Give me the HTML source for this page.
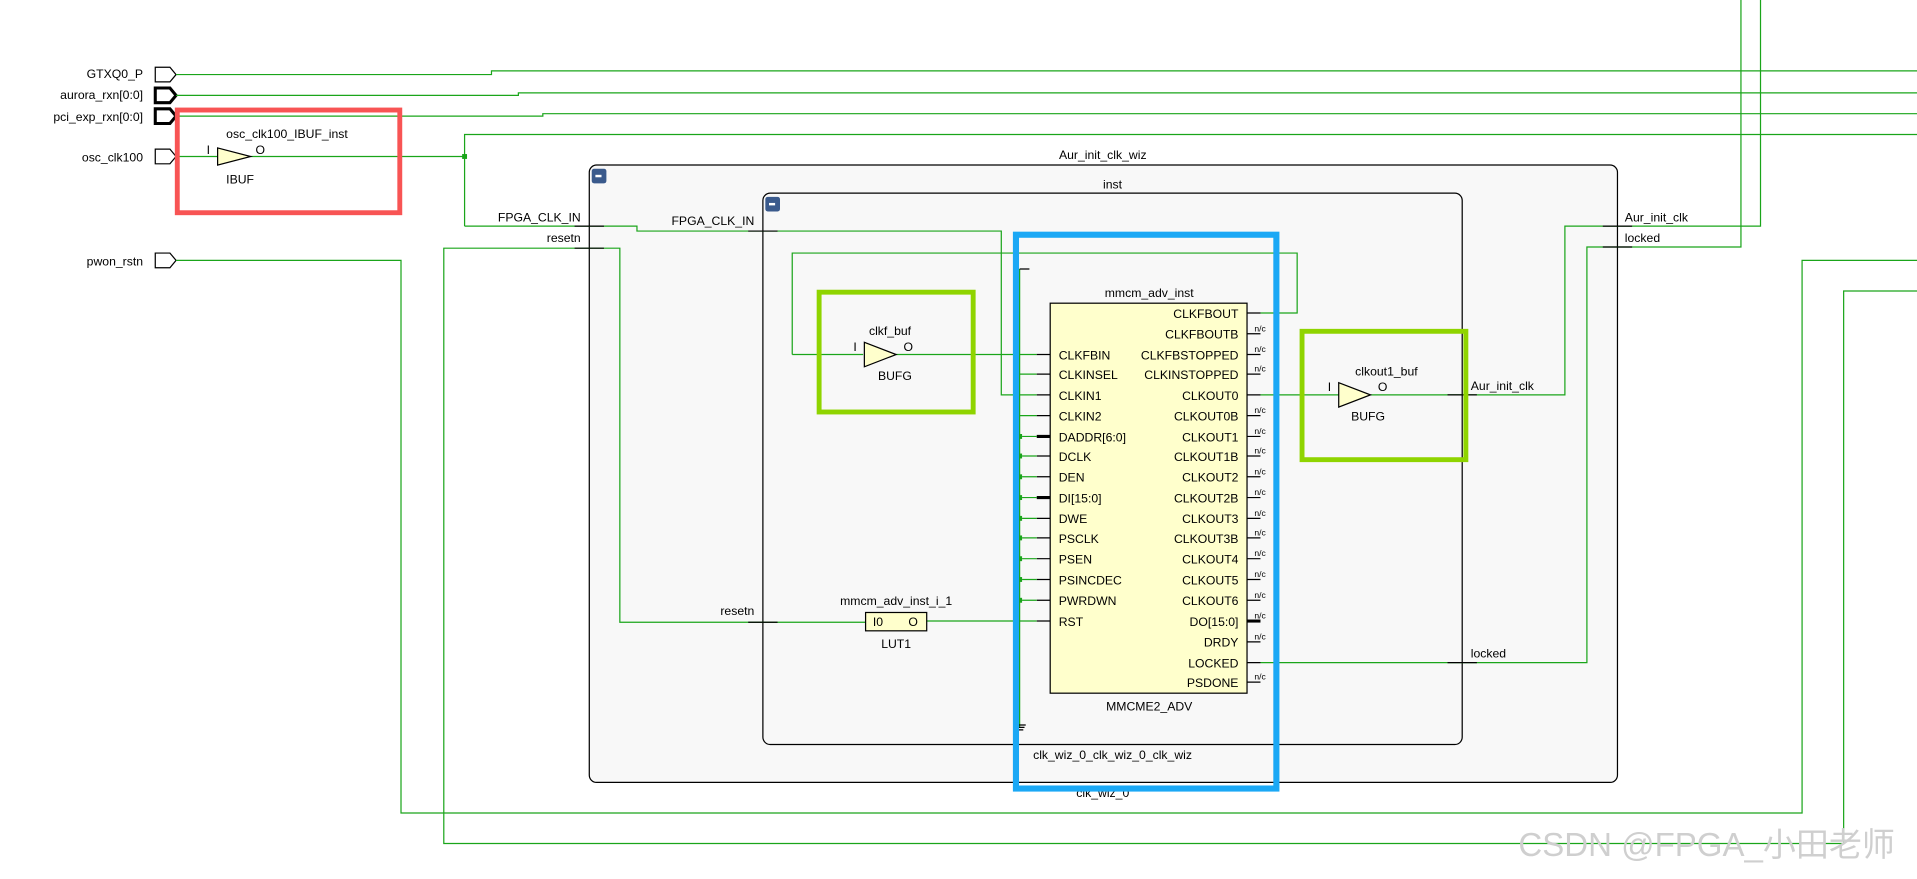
<!DOCTYPE html>
<html><head><meta charset="utf-8"><style>
html,body{margin:0;padding:0;background:#fff;overflow:hidden}
svg{display:block}
text{font-family:"Liberation Sans","Noto Sans CJK SC",sans-serif;font-size:10px;fill:#000}
.s{font-size:7px}
.g{stroke:#1aa51a;stroke-width:1;fill:none}
.k{stroke:#000;stroke-width:1;fill:none}
</style></head><body>
<svg width="1917" height="879" viewBox="0 0 1568 719" preserveAspectRatio="none" xmlns="http://www.w3.org/2000/svg">
<rect x="482" y="135" width="841" height="505" rx="6" fill="#f8f8f8" stroke="#000"/>
<text x="902" y="130" text-anchor="middle" font-size="11">Aur_init_clk_wiz</text>
<rect x="484" y="138" width="12" height="12" rx="2" fill="#3a5a8c"/><rect x="487" y="143" width="5" height="2" fill="#fff"/>
<text x="902" y="652" text-anchor="middle" font-size="11">clk_wiz_0</text>
<rect x="624" y="158" width="572" height="451" rx="6" fill="#f8f8f8" stroke="#000"/>
<text x="910" y="154" text-anchor="middle" font-size="11">inst</text>
<rect x="626" y="161" width="12" height="12" rx="2" fill="#3a5a8c"/><rect x="629" y="166" width="5" height="2" fill="#fff"/>
<text x="910" y="621" text-anchor="middle" font-size="11">clk_wiz_0_clk_wiz_0_clk_wiz</text>

<text x="117" y="64" text-anchor="end" font-size="12">GTXQ0_P</text>
<text x="117" y="81" text-anchor="end" font-size="12">aurora_rxn[0:0]</text>
<text x="117" y="99" text-anchor="end" font-size="12">pci_exp_rxn[0:0]</text>
<text x="117" y="132" text-anchor="end" font-size="12">osc_clk100</text>
<text x="117" y="217" text-anchor="end" font-size="12">pwon_rstn</text>
<path d="M127 55h12l5 6l-5 6h-12z" fill="#fff" stroke="#000"/>
<path d="M127 72h12l5 6l-5 6h-12z" fill="#fff" stroke="#000" stroke-width="2.5"/>
<path d="M127 89h12l5 6l-5 6h-12z" fill="#fff" stroke="#000" stroke-width="2.5"/>
<path d="M127 122h12l5 6l-5 6h-12z" fill="#fff" stroke="#000"/>
<path d="M127 207h12l5 6l-5 6h-12z" fill="#fff" stroke="#000"/>

<path class="g" d="M144 61H402V58H1568"/>
<path class="g" d="M144 78H424V76H1568"/>
<path class="g" d="M144 95H444V93H1568"/>
<path class="g" d="M144 128H178M205 128H380"/>
<path class="g" d="M380 185V110H1568"/>
<path class="g" d="M380 185H521V189H819V323H848"/>
<rect x="378" y="126" width="4" height="4" fill="#1aa51a"/>
<path class="g" d="M144 213H328V665H1474V213H1568"/>
<path class="g" d="M482 203H363V690H1508V238H1568"/>
<path class="g" d="M482 203H507V509H708"/>
<path class="g" d="M758 508H848"/>
<path class="g" d="M648 290H706M733 290H848"/>
<path class="g" d="M1031 256H1061V207H648V290"/>
<path class="g" d="M1031 323H1095M1121 323H1280V185H1440V0"/>
<path class="g" d="M1031 542H1298V202H1424V0"/>
<path class="g" d="M834 220V595"/>
<path class="g" d="M834 340H848M834 306H848"/>
<path class="k" d="M834 220H842M829 593H839M830 595H838M831 597H837"/>
<path class="k" d="M470 185H494M470 203H494M612 189H636M612 509H636M1311 185H1335M1311 202H1335M1184 323H1208M1184 542H1208"/>
<text x="475" y="181" text-anchor="end" font-size="9">FPGA_CLK_IN</text>
<text x="475" y="198" text-anchor="end" font-size="9">resetn</text>
<text x="617" y="184" text-anchor="end" font-size="9">FPGA_CLK_IN</text>
<text x="617" y="503" text-anchor="end" font-size="9">resetn</text>
<text x="1329" y="181" font-size="9">Aur_init_clk</text>
<text x="1329" y="198" font-size="9">locked</text>
<text x="1203" y="319" font-size="9">Aur_init_clk</text>
<text x="1203" y="538" font-size="9">locked</text>

<path d="M178 121L205 128L178 135z" fill="#ffffcc" stroke="#000"/>
<text x="185" y="113" font-size="11">osc_clk100_IBUF_inst</text>
<text x="169" y="126" font-size="10">I</text><text x="209" y="126" font-size="10">O</text>
<text x="185" y="150" font-size="11">IBUF</text>
<rect x="145" y="90" width="182" height="84" fill="none" stroke="#f85454" stroke-width="4"/>

<path d="M707 280L733 290L707 300z" fill="#ffffcc" stroke="#000"/>
<text x="728" y="274" text-anchor="middle" font-size="11">clkf_buf</text>
<text x="698" y="287">I</text><text x="739" y="287">O</text>
<text x="732" y="311" text-anchor="middle" font-size="11">BUFG</text>
<rect x="670" y="239" width="126" height="98" fill="none" stroke="#8fd400" stroke-width="4"/>

<path d="M1095 313L1121 323L1095 333z" fill="#ffffcc" stroke="#000"/>
<text x="1134" y="307" text-anchor="middle" font-size="11">clkout1_buf</text>
<text x="1086" y="320">I</text><text x="1127" y="320">O</text>
<text x="1119" y="344" text-anchor="middle" font-size="11">BUFG</text>
<rect x="1065" y="271" width="134" height="105" fill="none" stroke="#8fd400" stroke-width="4"/>

<rect x="708" y="501" width="50" height="15" fill="#ffffcc" stroke="#000"/>
<text x="714" y="512" font-size="9">I0</text><text x="743" y="512" font-size="9">O</text>
<text x="733" y="495" text-anchor="middle" font-size="11">mmcm_adv_inst_i_1</text>
<text x="733" y="530" text-anchor="middle" font-size="11">LUT1</text>

<rect x="859" y="248" width="161" height="319" fill="#ffffcc" stroke="#000"/>
<text x="940" y="243" text-anchor="middle" font-size="11">mmcm_adv_inst</text>
<text x="940" y="581" text-anchor="middle" font-size="11">MMCME2_ADV</text>
<g font-size="9.5">
<text x="866" y="294">CLKFBIN</text><text x="866" y="310">CLKINSEL</text><text x="866" y="327">CLKIN1</text><text x="866" y="344">CLKIN2</text><text x="866" y="361">DADDR[6:0]</text><text x="866" y="377">DCLK</text><text x="866" y="394">DEN</text><text x="866" y="411">DI[15:0]</text><text x="866" y="428">DWE</text><text x="866" y="444">PSCLK</text><text x="866" y="461">PSEN</text><text x="866" y="478">PSINCDEC</text><text x="866" y="495">PWRDWN</text><text x="866" y="512">RST</text>
</g>
<g font-size="9.5" text-anchor="end">
<text x="1013" y="260">CLKFBOUT</text><text x="1013" y="277">CLKFBOUTB</text><text x="1013" y="294">CLKFBSTOPPED</text><text x="1013" y="310">CLKINSTOPPED</text><text x="1013" y="327">CLKOUT0</text><text x="1013" y="344">CLKOUT0B</text><text x="1013" y="361">CLKOUT1</text><text x="1013" y="377">CLKOUT1B</text><text x="1013" y="394">CLKOUT2</text><text x="1013" y="411">CLKOUT2B</text><text x="1013" y="428">CLKOUT3</text><text x="1013" y="444">CLKOUT3B</text><text x="1013" y="461">CLKOUT4</text><text x="1013" y="478">CLKOUT5</text><text x="1013" y="495">CLKOUT6</text><text x="1013" y="512">DO[15:0]</text><text x="1013" y="529">DRDY</text><text x="1013" y="546">LOCKED</text><text x="1013" y="562">PSDONE</text>
</g>
<path class="k" d="M848 290H859M848 306H859M848 323H859M848 340H859M848 373H859M848 390H859M848 424H859M848 440H859M848 457H859M848 474H859M848 491H859M848 508H859"/>
<path d="M848 357H859M848 407H859" stroke="#000" stroke-width="2.5"/>
<g fill="#1aa51a"><rect x="832" y="355" width="4" height="4"/><rect x="832" y="371" width="4" height="4"/><rect x="832" y="388" width="4" height="4"/><rect x="832" y="405" width="4" height="4"/><rect x="832" y="422" width="4" height="4"/><rect x="832" y="438" width="4" height="4"/><rect x="832" y="455" width="4" height="4"/><rect x="832" y="472" width="4" height="4"/><rect x="832" y="489" width="4" height="4"/></g>
<path class="g" d="M836 357H848M836 373H848M836 390H848M836 407H848M836 424H848M836 440H848M836 457H848M836 474H848M836 491H848"/>
<path class="k" d="M1020 256H1031M1020 273H1031M1020 290H1031M1020 306H1031M1020 323H1031M1020 340H1031M1020 357H1031M1020 373H1031M1020 390H1031M1020 407H1031M1020 424H1031M1020 440H1031M1020 457H1031M1020 474H1031M1020 491H1031M1020 525H1031M1020 542H1031M1020 558H1031"/>
<path d="M1020 508H1031" stroke="#000" stroke-width="2.5"/>
<g>
<text x="1026" y="271" class="s">n/c</text><text x="1026" y="288" class="s">n/c</text><text x="1026" y="304" class="s">n/c</text><text x="1026" y="338" class="s">n/c</text><text x="1026" y="355" class="s">n/c</text><text x="1026" y="371" class="s">n/c</text><text x="1026" y="388" class="s">n/c</text><text x="1026" y="405" class="s">n/c</text><text x="1026" y="422" class="s">n/c</text><text x="1026" y="438" class="s">n/c</text><text x="1026" y="455" class="s">n/c</text><text x="1026" y="472" class="s">n/c</text><text x="1026" y="489" class="s">n/c</text><text x="1026" y="506" class="s">n/c</text><text x="1026" y="523" class="s">n/c</text><text x="1026" y="556" class="s">n/c</text>
</g>
<rect x="831" y="192" width="213" height="453" fill="none" stroke="#1ba8f5" stroke-width="5"/>
<text x="1242" y="700" style="fill:#cfcfcf;font-size:27px">CSDN @FPGA_小田老师</text>
</svg>
</body></html>
